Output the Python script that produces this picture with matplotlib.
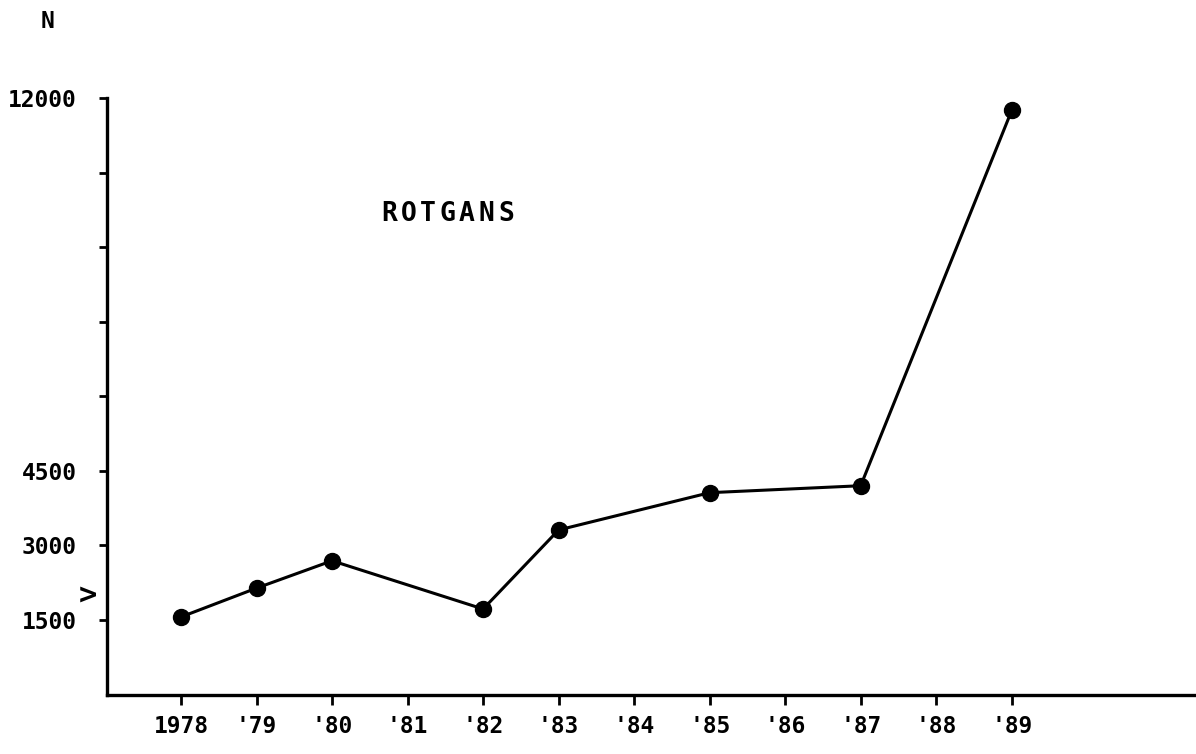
import numpy as np
import matplotlib.pyplot as plt

# counts per year
years = [1978, 1979, 1980, 1982, 1983, 1985, 1987, 1989]
counts = [1560, 2140, 2690, 1720, 3310, 4060, 4200, 11750]

xtick_years = list(range(1978, 1990))
xtick_labels = ['1978', "'79", "'80", "'81", "'82", "'83", "'84", "'85", "'86", "'87", "'88", "'89"]
ytick_vals = list(range(1500, 12001, 1500))
ytick_labels = ['1500', '3000', '4500', '', '', '', '', '12000']

plt.rcParams['font.family'] = 'DejaVu Sans Mono'
plt.rcParams['font.weight'] = 'bold'
fig = plt.figure(figsize=(11.96, 7.54), dpi=100)
ax = fig.add_axes([107/1196, 1 - 694.5/754, 1 - 107/1196, (694.5 - 98)/754])

ax.plot(years, counts, 'k-', linewidth=2.2, marker='o', markersize=11.5, clip_on=False)

ax.set_xlim(1977.02, 1991.44)
ax.set_ylim(0, 12000)
ax.set_xticks(xtick_years)
ax.set_xticklabels(xtick_labels, fontsize=16.5)
ax.set_yticks(ytick_vals)
ax.set_yticklabels(ytick_labels, fontsize=16.5)
ax.tick_params(axis='x', direction='out', length=7, width=2, pad=8)
ax.tick_params(axis='y', direction='out', length=6, width=2, pad=16)

for s in ['top', 'right']:
    ax.spines[s].set_visible(False)
ax.spines['left'].set_linewidth(2.4)
ax.spines['bottom'].set_linewidth(2.4)

# title inside the plot, letters spread out like the plotter font
word = 'ROTGANS'
for i, ch in enumerate(word):
    fig.text((389 + i * 19.5) / 1196, 1 - 214/754, ch, fontsize=19,
             ha='center', va='center')

fig.text(47/1196, 1 - 22/754, 'N', fontsize=16.5, ha='center', va='center')
fig.text(88/1196, 1 - 595/754, '>', fontsize=22, ha='center', va='center')

fig.savefig('out.png', dpi=100)
